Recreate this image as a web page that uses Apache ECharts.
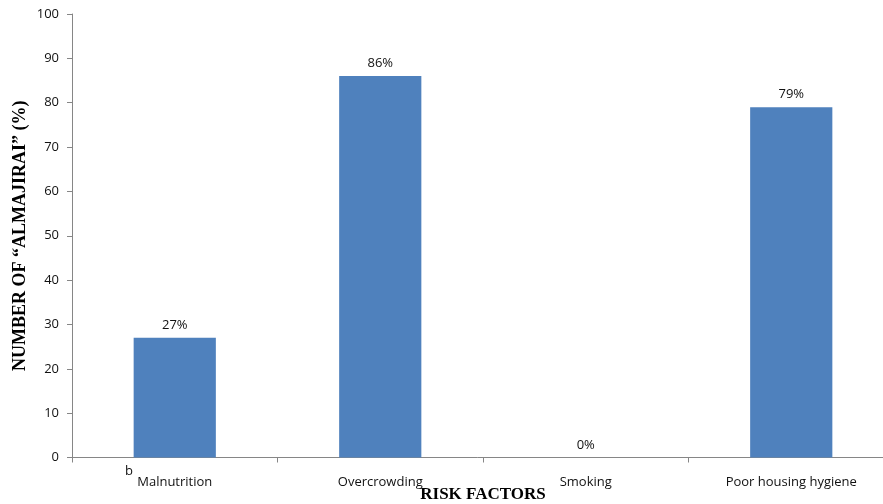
<!DOCTYPE html>
<html>
<head>
<meta charset="utf-8">
<script src="https://cdn.jsdelivr.net/npm/echarts@6/dist/echarts.min.js"></script>
<style>
  html, body { margin: 0; padding: 0; background: #fff; }
  #chart { width: 883px; height: 504px; }
</style>
</head>
<body>
<div id="chart"></div>
<script>
// Risk factors and the share of almajirai affected by each
const categories = ['Malnutrition', 'Overcrowding', 'Smoking', 'Poor housing hygiene'];
const percentValues = [27, 86, 0, 79];
const yTicks = { min: 0, max: 100, interval: 10 };

const chart = echarts.init(document.getElementById('chart'), null, { renderer: 'canvas' });

const axisGrey = '#868686';
const bodyFont = '"Open Sans", "Noto Sans", sans-serif';
const titleFont = '"Liberation Serif", "DejaVu Serif", serif';

chart.setOption({
  animation: false,
  backgroundColor: '#ffffff',
  grid: { left: 72, top: 14, width: 822, height: 443.5, containLabel: false, outerBoundsMode: 'none' },
  xAxis: {
    type: 'category',
    data: categories,
    boundaryGap: true,
    axisLine: { lineStyle: { color: axisGrey, width: 1 } },
    axisTick: { show: true, alignWithLabel: false, length: 5, lineStyle: { color: axisGrey } },
    axisLabel: { color: '#111', fontFamily: bodyFont, fontSize: 13, margin: 18, interval: 0 },
    name: 'RISK FACTORS',
    nameLocation: 'middle',
    nameGap: 29,
    nameMoveOverlap: false,
    nameTextStyle: { color: '#000', fontFamily: titleFont, fontWeight: 'bold', fontSize: 17 },
    splitLine: { show: false }
  },
  yAxis: {
    type: 'value',
    min: yTicks.min,
    max: yTicks.max,
    interval: yTicks.interval,
    axisLine: { show: true, lineStyle: { color: axisGrey, width: 1 } },
    axisTick: { show: true, length: 5, lineStyle: { color: axisGrey } },
    axisLabel: { color: '#111', fontFamily: bodyFont, fontSize: 13, margin: 13 },
    splitLine: { show: false },
    name: 'NUMBER OF \u201CALMAJIRAI\u201D (%)',
    nameLocation: 'middle',
    nameGap: 43,
    nameMoveOverlap: false,
    nameRotate: 90,
    nameTextStyle: { color: '#000', fontFamily: titleFont, fontWeight: 'bold', fontSize: 18 }
  },
  series: [{
    type: 'bar',
    data: percentValues,
    barWidth: '40%',
    itemStyle: { color: '#4F81BD' },
    label: {
      show: true,
      position: 'top',
      distance: 6,
      formatter: p => p.value + '%',
      color: '#111',
      fontFamily: bodyFont,
      fontSize: 13
    }
  }],
  graphic: [{
    type: 'text',
    left: 125,
    top: 465,
    style: { text: 'b', fill: '#111', font: '13px "Open Sans", sans-serif' }
  }]
});
</script>
</body>
</html>
